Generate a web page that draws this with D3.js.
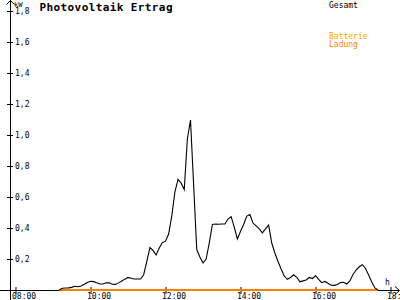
<!DOCTYPE html>
<html>
<head>
<meta charset="utf-8">
<script src="https://cdn.jsdelivr.net/npm/d3@7"></script>
<style>
    body { margin: 0; background: #fff; }
    svg { display: block; }
    text { font-family: "DejaVu Sans Mono", monospace; }
</style>
</head>
<body>
<svg id="chart" width="400" height="300"></svg>
<script>

// Gesamt, 5-minute readings (kW)
var times = ["09:10","09:15","09:20","09:25","09:30","09:35","09:40","09:45","09:50","09:55",
    "10:00","10:05","10:10","10:15","10:20","10:25","10:30","10:35","10:40","10:45",
    "10:50","10:55","11:00","11:05","11:10","11:15","11:20","11:25","11:30","11:35",
    "11:40","11:45","11:50","11:55","12:00","12:05","12:10","12:15","12:20","12:25",
    "12:30","12:35","12:40","12:45","12:50","12:55","13:00","13:05","13:10","13:15",
    "13:20","13:25","13:30","13:35","13:40","13:45","13:50","13:55","14:00","14:05",
    "14:10","14:15","14:20","14:25","14:30","14:35","14:40","14:45","14:50","14:55",
    "15:00","15:05","15:10","15:15","15:20","15:25","15:30","15:35","15:40","15:45",
    "15:50","15:55","16:00","16:05","16:10","16:15","16:20","16:25","16:30","16:35",
    "16:40","16:45","16:50","16:55","17:00","17:05","17:10","17:15","17:20","17:25",
    "17:30","17:35","17:40"];

var gesamt = [0, 0.011, 0.013, 0.014, 0.017, 0.024, 0.021, 0.026, 0.037, 0.048,
    0.056, 0.054, 0.047, 0.039, 0.039, 0.047, 0.046, 0.037, 0.036, 0.046,
    0.058, 0.070, 0.081, 0.076, 0.071, 0.071, 0.071, 0.097, 0.183, 0.274,
    0.255, 0.226, 0.271, 0.306, 0.315, 0.361, 0.477, 0.632, 0.713, 0.690,
    0.648, 0.974, 1.097, 0.677, 0.261, 0.213, 0.174, 0.200, 0.303, 0.423,
    0.426, 0.424, 0.426, 0.426, 0.458, 0.473, 0.406, 0.329, 0.377, 0.423,
    0.477, 0.487, 0.432, 0.414, 0.394, 0.368, 0.394, 0.419, 0.303, 0.239,
    0.184, 0.135, 0.090, 0.069, 0.081, 0.098, 0.082, 0.053, 0.059, 0.065,
    0.081, 0.074, 0.092, 0.068, 0.047, 0.055, 0.044, 0.031, 0.030, 0.035,
    0.048, 0.050, 0.039, 0.058, 0.100, 0.129, 0.150, 0.163, 0.139, 0.097,
    0.052, 0.013, 0];

// Batterie Ladung
var ladungTimes = ["09:10", "17:40"];
var ladung = [0, 0];

var yTicks = [0.2, 0.4, 0.6, 0.8, 1.0, 1.2, 1.4, 1.6, 1.8];
var xTicks = ["08:00", "10:00", "12:00", "14:00", "16:00", "18:00"];

var parseTime = d3.timeParse("%H:%M");
var comma = d3.formatLocale({decimal: ",", thousands: ".", grouping: [3], currency: ["", "€"]}).format(".1f");

var svg = d3.select("#chart");

var x = d3.scaleTime()
    .domain([parseTime("08:00"), parseTime("18:00")])
    .range([15.5, 390.5]);

var y = d3.scaleLinear()
    .domain([0, 1.8])
    .range([290, 11]);

var axisY = 290, axisX = 10;

// lines
var line = d3.line()
    .x(function(d){ return x(d[0]); })
    .y(function(d){ return y(d[1]); });

// x axis
var xAxis = d3.axisBottom(x)
    .tickValues(xTicks.map(parseTime))
    .tickFormat(d3.timeFormat("%H:%M"))
    .tickSize(0);

var gx = svg.append("g")
    .attr("transform", "translate(0," + axisY + ")")
    .call(xAxis);
gx.select(".domain").remove();
gx.selectAll(".tick line").attr("y1", -3).attr("y2", 4).attr("stroke", "#000");
gx.selectAll(".tick text")
    .attr("text-anchor", "start")
    .attr("x", -4)
    .attr("y", 9)
    .attr("dy", null)
    .attr("font-size", "8px")
    .attr("font-family", "DejaVu Sans Mono")
    .attr("fill", "#000");

// y axis
var yAxis = d3.axisLeft(y)
    .tickValues(yTicks)
    .tickFormat(comma)
    .tickSize(0);

var gy = svg.append("g")
    .attr("transform", "translate(" + axisX + ",0)")
    .call(yAxis);
gy.select(".domain").remove();
gy.selectAll(".tick line").attr("x1", -3).attr("x2", 3).attr("stroke", "#000");
gy.selectAll(".tick text")
    .attr("text-anchor", "start")
    .attr("x", 5)
    .attr("dy", "0.32em")
    .attr("font-size", "8px")
    .attr("font-family", "DejaVu Sans Mono")
    .attr("fill", "#000");

// axis lines with arrows
svg.append("line")
    .attr("x1", 0).attr("x2", 399)
    .attr("y1", axisY + 0.5).attr("y2", axisY + 0.5)
    .attr("stroke", "#000");
svg.append("path")
    .attr("d", "M395," + (axisY - 3.5) + "L399.5," + (axisY + 0.5) + "L395," + (axisY + 4.5))
    .attr("fill", "none").attr("stroke", "#000");

svg.append("line")
    .attr("x1", axisX + 0.5).attr("x2", axisX + 0.5)
    .attr("y1", 0).attr("y2", 300)
    .attr("stroke", "#000");
svg.append("path")
    .attr("d", "M" + (axisX - 3.5) + ",4.5L" + (axisX + 0.5) + ",0.5L" + (axisX + 4.5) + ",4.5")
    .attr("fill", "none").attr("stroke", "#000");

svg.append("path")
    .datum(ladungTimes.map(function(t, i){ return [parseTime(t), ladung[i]]; }))
    .attr("d", line)
    .attr("fill", "none")
    .attr("stroke", "#ff8000")
    .attr("stroke-width", 2);

svg.append("path")
    .datum(times.map(function(t, i){ return [parseTime(t), gesamt[i]]; }))
    .attr("d", line)
    .attr("fill", "none")
    .attr("stroke", "#000")
    .attr("stroke-width", 1.1);

// labels
svg.append("text")
    .attr("x", 14).attr("y", 6.5)
    .attr("font-size", "7px")
    .text("kW");

svg.append("text")
    .attr("x", 385).attr("y", 284.5)
    .attr("font-size", "8px")
    .text("h");

svg.append("text")
    .attr("x", 39.5).attr("y", 10.5)
    .attr("font-size", "11px")
    .attr("font-weight", "bold")
    .attr("textLength", 133)
    .attr("lengthAdjust", "spacing")
    .text("Photovoltaik Ertrag");

// legend
svg.append("text")
    .attr("x", 329).attr("y", 7.5)
    .attr("font-size", "8px")
    .attr("fill", "#000")
    .text("Gesamt");

svg.append("text")
    .attr("x", 329).attr("y", 39)
    .attr("font-size", "8px")
    .attr("fill", "#ffa500")
    .text("Batterie");

svg.append("text")
    .attr("x", 329).attr("y", 47)
    .attr("font-size", "8px")
    .attr("fill", "#ff8000")
    .text("Ladung");

</script>
</body>
</html>
